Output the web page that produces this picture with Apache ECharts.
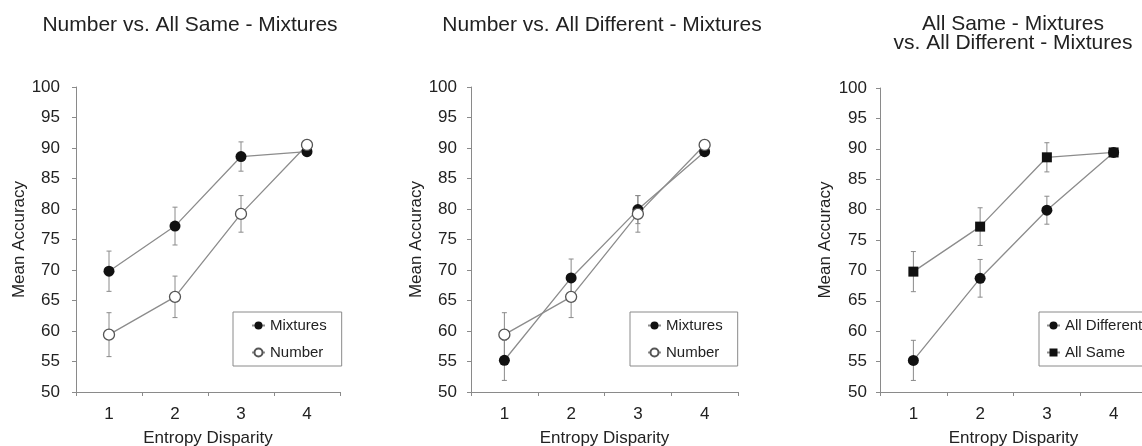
<!DOCTYPE html>
<html>
<head>
<meta charset="utf-8">
<script src="https://cdn.jsdelivr.net/npm/echarts@6/dist/echarts.min.js"></script>
<style>
html,body{margin:0;padding:0;background:#fff;}
#chart{width:1142px;height:446px;}
</style>
</head>
<body>
<div id="chart"></div>
<script>
// ---- data ----
const categories = ['1', '2', '3', '4'];
const yTicks = [50, 100, 5]; // min, max, interval
const allSame = [69.8, 77.2, 88.6, 89.4];
const allSameErr = [3.3, 3.1, 2.4, 0];
const allDiff = [55.2, 68.7, 79.9, 89.4];
const allDiffErr = [3.3, 3.1, 2.3, 0];
const number = [59.4, 65.6, 79.2, 90.5];
const numberErr = [3.6, 3.4, 3.0, 0];
const titles = [
  'Number vs. All Same - Mixtures',
  'Number vs. All Different - Mixtures',
  'All Same - Mixtures\nvs. All Different - Mixtures'
];

// ---- styles ----
const FONT = '"Liberation Sans", Arial, Helvetica, sans-serif';
const TXT = '#222';
const AX = '#8a8a8a';
const LINE = '#8c8c8c';

const grids = [
  {left: 76, top: 87, width: 264, height: 305, outerBoundsMode: 'none', containLabel: false},
  {left: 471, top: 87, width: 267, height: 305, outerBoundsMode: 'none', containLabel: false},
  {left: 880, top: 88, width: 267, height: 304, outerBoundsMode: 'none', containLabel: false}
];
const yLabelMargins = [16, 14, 13];

function xAxis(i) {
  return {
    type: 'category', gridIndex: i, data: categories, boundaryGap: true,
    name: 'Entropy Disparity', nameLocation: 'middle', nameGap: 38,
    nameTextStyle: {fontFamily: FONT, fontSize: 17, color: TXT},
    axisLine: {lineStyle: {color: AX, width: 1}},
    axisTick: {show: true, length: 4, lineStyle: {color: AX}},
    axisLabel: {fontFamily: FONT, fontSize: 17, color: TXT, margin: 14},
    splitLine: {show: false}
  };
}
function yAxis(i) {
  return {
    type: 'value', gridIndex: i, min: yTicks[0], max: yTicks[1], interval: yTicks[2],
    name: 'Mean Accuracy', nameLocation: 'middle', nameGap: 46,
    nameTextStyle: {fontFamily: FONT, fontSize: 17, color: TXT},
    axisLine: {show: true, lineStyle: {color: AX, width: 1}},
    axisTick: {show: true, length: 4, lineStyle: {color: AX}},
    axisLabel: {fontFamily: FONT, fontSize: 17, color: TXT, margin: yLabelMargins[i]},
    splitLine: {show: false}
  };
}

function errData(vals, errs) {
  return vals.map((v, k) => [k, v - errs[k], v + errs[k]]);
}
function errRender(params, api) {
  const x = api.value(0), lo = api.value(1), hi = api.value(2);
  if (hi - lo <= 0) return null;
  const t = api.coord([x, hi]);
  const b = api.coord([x, lo]);
  const hw = 2.5;
  const st = {stroke: AX, lineWidth: 1};
  return {type: 'group', children: [
    {type: 'line', shape: {x1: t[0], y1: t[1], x2: b[0], y2: b[1]}, style: st},
    {type: 'line', shape: {x1: t[0] - hw, y1: t[1], x2: t[0] + hw, y2: t[1]}, style: st},
    {type: 'line', shape: {x1: b[0] - hw, y1: b[1], x2: b[0] + hw, y2: b[1]}, style: st}
  ]};
}
function errSeries(i, vals, errs) {
  return {type: 'custom', xAxisIndex: i, yAxisIndex: i, z: 1, silent: true,
    renderItem: errRender, data: errData(vals, errs), encode: {x: 0, y: [1, 2]}};
}
function lineSeries(i, name, vals, symbol, filled) {
  return {
    type: 'line', name: name, xAxisIndex: i, yAxisIndex: i, data: vals, z: 3,
    symbol: symbol, symbolSize: symbol === 'rect' ? 10 : 11,
    lineStyle: {color: LINE, width: 1.3},
    itemStyle: filled ? {color: '#111', borderColor: '#111', borderWidth: 0}
                      : {color: '#fff', borderColor: '#555', borderWidth: 1.3},
    emphasis: {disabled: true}, animation: false
  };
}

const legendBase = {
  orient: 'vertical', top: 312, itemWidth: 13, itemHeight: 10, itemGap: 12,
  padding: [6, 15, 6, 18], borderColor: AX, borderWidth: 1,
  textStyle: {fontFamily: FONT, fontSize: 15, color: TXT}, selectedMode: false
};
const titleStyle = {fontFamily: FONT, fontSize: 21, fontWeight: 'normal', color: TXT};

const option = {
  animation: false,
  backgroundColor: '#fff',
  title: [
    {text: titles[0], left: 190, top: 15, padding: 0, textAlign: 'center', textStyle: titleStyle},
    {text: titles[1], left: 602, top: 15, padding: 0, textAlign: 'center', textStyle: titleStyle},
    {text: titles[2], left: 1013, top: 15, padding: 0, textAlign: 'center',
      textStyle: Object.assign({}, titleStyle, {lineHeight: 19})}
  ],
  grid: grids,
  xAxis: [xAxis(0), xAxis(1), xAxis(2)],
  yAxis: [yAxis(0), yAxis(1), yAxis(2)],
  legend: [
    Object.assign({}, legendBase, {left: 233, data: ['Mixtures', 'Number']}),
    Object.assign({}, legendBase, {left: 630, padding: [6, 15, 6, 17], data: ['Mixtures', 'Number']}),
    Object.assign({}, legendBase, {left: 1039, padding: [6, 15, 6, 7], data: ['All Different', 'All Same']})
  ],
  series: [
    errSeries(0, allSame, allSameErr),
    errSeries(0, number, numberErr),
    lineSeries(0, 'Mixtures', allSame, 'circle', true),
    lineSeries(0, 'Number', number, 'circle', false),

    errSeries(1, allDiff, allDiffErr),
    errSeries(1, number, numberErr),
    lineSeries(1, 'Mixtures', allDiff, 'circle', true),
    lineSeries(1, 'Number', number, 'circle', false),

    errSeries(2, allDiff, allDiffErr),
    errSeries(2, allSame, allSameErr),
    lineSeries(2, 'All Different', allDiff, 'circle', true),
    lineSeries(2, 'All Same', allSame, 'rect', true)
  ]
};

const chart = echarts.init(document.getElementById('chart'), null, {renderer: 'canvas'});
chart.setOption(option);
</script>
</body>
</html>
